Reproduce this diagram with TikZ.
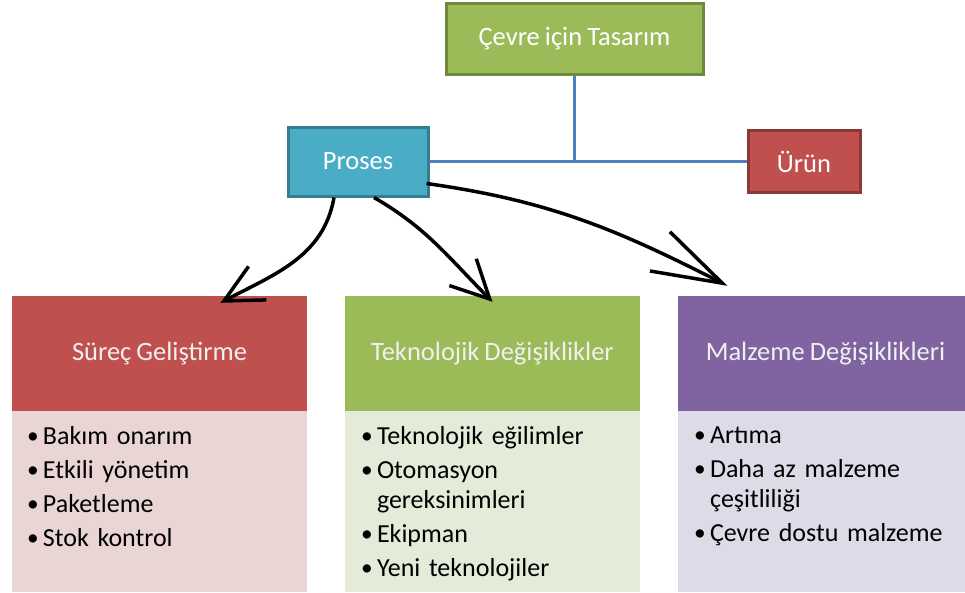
\documentclass[tikz,border=0pt]{standalone}
\usepackage{fontspec}
\usepackage{graphicx}
\setmainfont{Carlito}[WordSpace=0.85]
\usetikzlibrary{positioning,arrows.meta}
\definecolor{yesil}{HTML}{9BBB59}
\definecolor{yesilkenar}{HTML}{71893F}
\definecolor{mavi}{HTML}{4BACC6}
\definecolor{mavikenar}{HTML}{357D91}
\definecolor{kirmizi}{HTML}{C0504D}
\definecolor{kirmizikenar}{HTML}{8C3836}
\definecolor{mor}{HTML}{8064A2}
\definecolor{cizgi}{HTML}{4F81BD}
\definecolor{kirmiziacik}{HTML}{EAD5D5}
\definecolor{yesilacik}{HTML}{E4EBD8}
\definecolor{moracik}{HTML}{DFDAE7}
\newcommand\madde[1]{\makebox[17pt][l]{\hspace*{1pt}\raisebox{0.8pt}{\scalebox{0.9}{\textbullet}}}#1}
\newcommand\devam[1]{\hspace*{17pt}#1}
\tikzset{
  kutu/.style     = {draw, line width=3pt, align=center, inner sep=0pt,
                     text=white, font=\fontsize{26.5}{30}\selectfont},
  baslik/.style   = {inner sep=0pt, minimum width=295pt, minimum height=115pt,
                     text=white!94!black, font=\fontsize{26.5}{30}\selectfont},
  govde/.style    = {inner sep=0pt, minimum width=295pt, minimum height=181pt},
  liste/.style    = {anchor=north west, align=left, inner sep=0pt, text width=275pt,
                     font=\fontsize{26}{30}\selectfont},
  baglanti/.style = {draw=cizgi, line width=3pt},
  ok/.style       = {-{Straight Barb[length=38pt, width=38pt]}, line width=3.5pt}
}
\begin{document}
\begin{tikzpicture}[x=1pt, y=1pt]
		\useasboundingbox (0,0) rectangle (965,-592);
		\node[kutu, fill=yesil, draw=yesilkenar, minimum width=257pt, minimum height=71pt] (tasarim) at (574.5,-38.5) {Çevre için Tasarım};
		\node[kutu, fill=mavi, draw=mavikenar, minimum width=140pt, minimum height=69pt] (proses) at (358,-161.5) {Proses};
		\node[kutu, fill=kirmizi, draw=kirmizikenar, minimum width=112pt, minimum height=62pt] (urun) at (804,-161.5) {Ürün};

		\node[baslik, fill=kirmizi] (surec) at (159.5,-353.5) {Süreç Geliştirme};
		\node[baslik, fill=yesil] (teknoloji) at (492.5,-353.5) {Teknolojik Değişiklikler};
		\node[baslik, fill=mor] (malzeme) at (825.5,-353.5) {Malzeme Değişiklikleri};
		\node[govde, fill=kirmiziacik, below=0pt of surec] (surecg) {};
		\node[govde, fill=yesilacik, below=0pt of teknoloji] (teknolojig) {};
		\node[govde, fill=moracik, below=0pt of malzeme] (malzemeg) {};

		\node[liste] at ([xshift=14pt, yshift=-15pt]surecg.north west) {\madde{Bakım onarım}\\[4pt] \madde{Etkili yönetim}\\[4pt] \madde{Paketleme}\\[4pt] \madde{Stok kontrol}};
		\node[liste] at ([xshift=15pt, yshift=-15pt]teknolojig.north west) {\madde{Teknolojik eğilimler}\\[4pt] \madde{Otomasyon}\\ \devam{gereksinimleri}\\[4pt] \madde{Ekipman}\\[4pt] \madde{Yeni teknolojiler}};
		\node[liste] at ([xshift=15pt, yshift=-15pt]malzemeg.north west) {\madde{Artıma}\\[4pt] \madde{Daha az malzeme}\\ \devam{çeşitliliği}\\[4pt] \madde{Çevre dostu malzeme}};

		% agac baglantilari
		\coordinate (kavsak) at (tasarim.south |- proses.east);
		\draw[baglanti] (tasarim.south) -- (kavsak);
		\draw[baglanti] (proses.east) -- (urun.west);

		% el cizimi oklar
		\draw[ok] ([xshift=-24pt]proses.south) to[out=-100, in=28] ([xshift=61pt, yshift=-7pt]surec.north);
		\draw[ok] ([xshift=16pt]proses.south) to[out=-30, in=135] ([yshift=-6pt]teknoloji.north);
		\draw[ok, -{Straight Barb[length=70pt, width=44pt]}] ([xshift=-3pt, yshift=-22pt]proses.east) to[out=-8, in=153] ([xshift=-98pt, yshift=10pt]malzeme.north);
	\end{tikzpicture}
\end{document}
